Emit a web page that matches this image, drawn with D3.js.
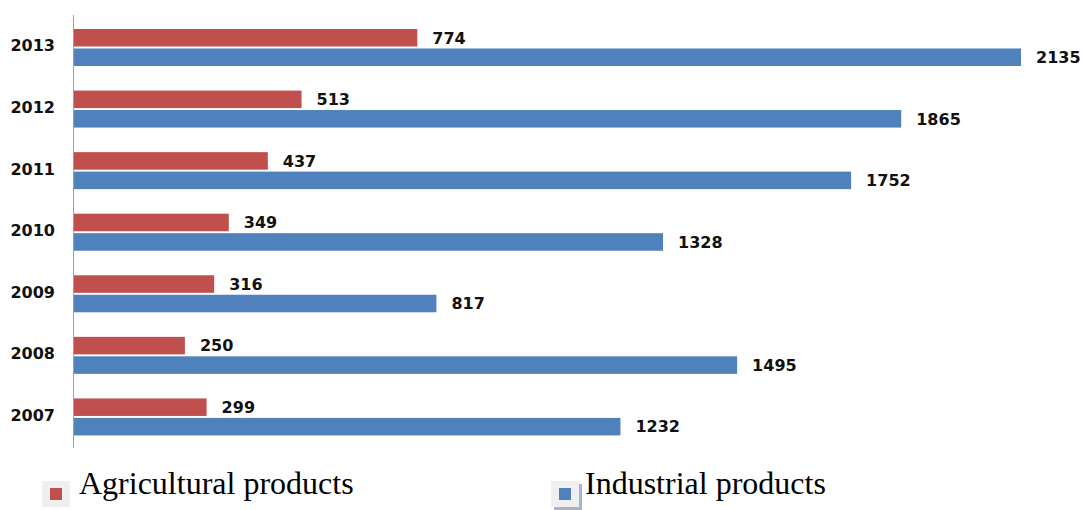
<!DOCTYPE html>
<html><head><meta charset="utf-8">
<script src="https://cdn.jsdelivr.net/npm/d3@7"></script>
<style>body{margin:0;background:#fff}</style>
</head><body>
<svg id="c" width="1083" height="510"></svg>
<script>
const years = ["2013","2012","2011","2010","2009","2008","2007"];
const seriesNames = ["Agricultural products","Industrial products"];
const agricultural = [774,513,437,349,316,250,299];
const industrial = [2135,1865,1752,1328,817,1495,1232];
const colors = ["#C0504D","#4F81BD"];

const svg = d3.select("#c");
const x = d3.scaleLinear().domain([0,2135]).range([74,1021]);
const y = d3.scaleBand().domain(years).range([15,446]).padding(0);
const y1 = d3.scaleBand().domain(seriesNames).range([14,51]).paddingInner(0.1).paddingOuter(0);

const data = years.map((yr,i)=>({year:yr, vals:[agricultural[i], industrial[i]]}));

const g = svg.append("g");
data.forEach(d=>{
  d.vals.forEach((v,j)=>{
    const yy = y(d.year)+y1(seriesNames[j]);
    g.append("rect").attr("x",x(0)).attr("y",yy).attr("width",x(v)-x(0)).attr("height",y1.bandwidth()).attr("fill",colors[j]);
    g.append("text").attr("x",x(v)+15).attr("y",yy+y1.bandwidth()/2).attr("dy","0.36em")
      .attr("font-family","DejaVu Sans, sans-serif").attr("font-weight","bold").attr("font-size",16).attr("fill","#111").text(v);
  });
});

// y axis
const yAxis = d3.axisLeft(y).tickSize(0).tickPadding(18);
const ax = svg.append("g").attr("transform",`translate(73,0)`).call(yAxis);
ax.select(".domain").attr("stroke","#a0a0a0").attr("d","M0.5,15V448");
ax.selectAll("text").attr("font-family","DejaVu Sans, sans-serif").attr("font-weight","bold").attr("font-size",16).attr("fill","#111").attr("dy","0.35em");

// legend
const leg = [{x:42,tx:79},{x:551,tx:585}];
seriesNames.forEach((n,j)=>{
  const L = svg.append("g");
  L.append("rect").attr("x",leg[j].x+3).attr("y",484).attr("width",28).attr("height",26).attr("fill","#a9b4c6").attr("opacity",j?1:0);
  L.append("rect").attr("x",leg[j].x).attr("y",481).attr("width",28).attr("height",26).attr("fill","#efefef");
  L.append("rect").attr("x",leg[j].x+8).attr("y",488).attr("width",12).attr("height",12).attr("fill",colors[j]);
  L.append("text").attr("x",leg[j].tx).attr("y",494).attr("font-family","Liberation Serif, serif").attr("font-size",32).attr("fill","#000").text(n);
});
</script>
</body></html>
